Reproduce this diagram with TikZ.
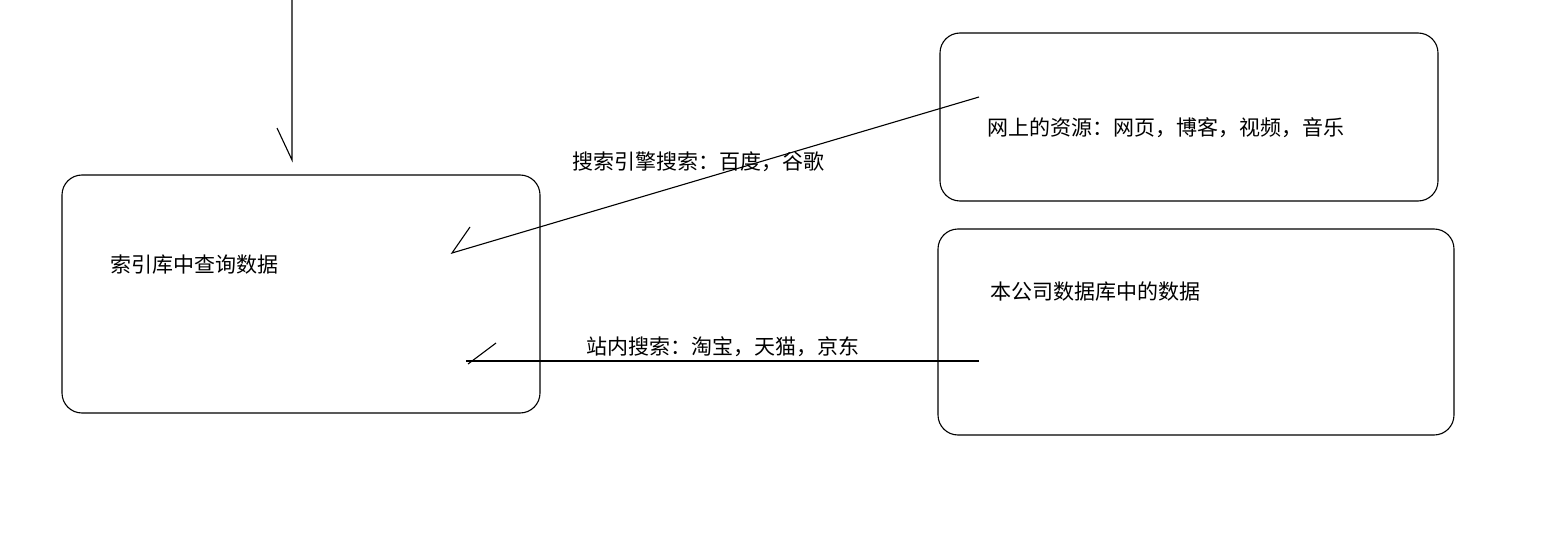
\documentclass[tikz,border=0pt]{standalone}
\usepackage{fontspec}
\setmainfont{Noto Sans CJK SC}
\begin{document}
\begin{tikzpicture}[x=1pt,y=-1pt,
  box/.style={draw,rounded corners=20pt,line width=1.1pt},
  lbl/.style={font=\fontsize{21}{24}\selectfont,anchor=west,inner sep=0pt},
  ln/.style={line width=1.1pt}]
\useasboundingbox (0,0) rectangle (1558,559);
\draw[box] (62,175) rectangle (540,413);
\draw[box] (940,33) rectangle (1438,201);
\draw[box] (938,229) rectangle (1454,435);
\node[lbl] (t1) at (110,265) {索引库中查询数据};
\node[lbl] (t2) at (987,128) {网上的资源：网页，博客，视频，音乐};
\node[lbl] (t3) at (990,292) {本公司数据库中的数据};
\node[lbl] (l1) at (572,162) {搜索引擎搜索：百度，谷歌};
\node[lbl] (l2) at (586,347) {站内搜索：淘宝，天猫，京东};
\coordinate (a0) at (292,0); \coordinate (a1) at (292,160); \coordinate (a2) at (277,128);
\coordinate (b0) at (979,97); \coordinate (b1) at (452,253); \coordinate (b2) at (470,227);
\coordinate (c0) at (979,361); \coordinate (c1) at (466,361); \coordinate (c2) at (496,343);
\draw[ln] (a0) -- (a1) -- (a2);
\draw[ln] (b0) -- (b1) -- (b2);
\draw[ln] (c0) -- (c1);
\draw[ln] (468,364) -- (c2);
\end{tikzpicture}
\end{document}
